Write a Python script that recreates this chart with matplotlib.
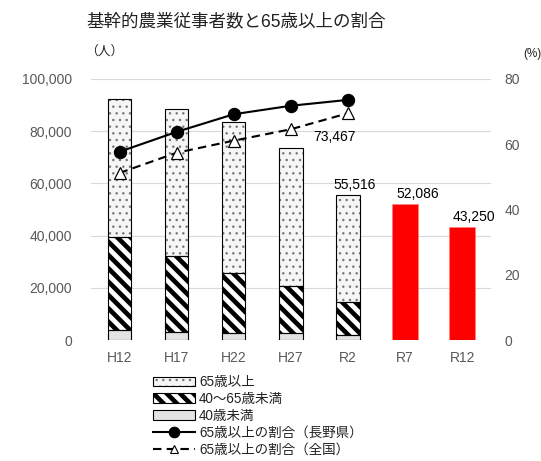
import matplotlib
matplotlib.use("Agg")
import matplotlib.pyplot as plt
from matplotlib.patches import Patch, Rectangle
from matplotlib.lines import Line2D
from matplotlib.legend_handler import HandlerTuple, HandlerPatch
import numpy as np

plt.rcParams['font.family'] = ['Liberation Sans', 'Noto Sans CJK JP', 'DejaVu Sans']

# data
years = ["H12", "H17", "H22", "H27", "R2", "R7", "R12"]
under40 = [3800, 3200, 2600, 2600, 1900]
age40_64 = [35700, 29000, 23200, 18100, 12800]
over65 = [52700, 56300, 57600, 52767, 40816]
projection = [52086, 43250]              # R7, R12 (推計)
total_labels = ["73,467", "55,516", "52,086", "43,250"]
ratio_nagano = [57.7, 63.8, 69.2, 71.8, 73.6]
ratio_japan = [51.2, 57.4, 61.1, 64.6, 69.5]

DPI = 80
fig = plt.figure(figsize=(541 / DPI, 461 / DPI), dpi=DPI)
ax = fig.add_axes([91 / 541, 1 - 340 / 461, (490.7 - 91) / 541, (340 - 79) / 461])
ax2 = ax.twinx()

grey = "#595959"
x_act = np.arange(len(under40))
x_proj = np.arange(len(under40), len(years))
w = 0.41

DOT = dict(hatch="..", hcolor="#777777", face="#f6f6f6", hlw=1.0)
STRIPE = dict(hatch="\\\\", hcolor="black", face="white", hlw=4.2)


def hatched(ax, x, h, bottom, style, width):
    with plt.rc_context({"hatch.linewidth": style["hlw"], "hatch.color": style["hcolor"]}):
        bars = ax.bar(x, h, width, bottom=bottom, color=style["face"], hatch=style["hatch"],
                      edgecolor=style["hcolor"], linewidth=0, zorder=2)
    for b in bars:
        if hasattr(b, "set_hatch_linewidth"):
            b.set_hatch_linewidth(style["hlw"])
    ax.bar(x, h, width, bottom=bottom, fill=False, edgecolor="black",
           linewidth=1.0, zorder=3)


b1 = np.array(under40, dtype=float)
b2 = b1 + np.array(age40_64)
ax.bar(x_act, under40, w, color="#e3e3e3", edgecolor="black", linewidth=1.0, zorder=3)
hatched(ax, x_act, age40_64, b1, STRIPE, w)
hatched(ax, x_act, over65, b2, DOT, w)
ax.bar(x_proj, projection, 0.46, color="#ff0000", edgecolor="#ff8080", linewidth=0.6, zorder=3)

tops = list(b2 + np.array(over65))
# data labels
ax.annotate(total_labels[0], (3, tops[3]), xytext=(39, 10), textcoords="offset points",
            ha="center", va="center", fontsize=12.5, color="black", zorder=5)
ax.annotate(total_labels[1], (4, tops[4]), xytext=(6, 9), textcoords="offset points",
            ha="center", va="center", fontsize=12.5, color="black", zorder=5)
for xi, v, lab in zip(x_proj, projection, total_labels[2:]):
    ax.annotate(lab, (xi, v), xytext=(11, 3), textcoords="offset points",
                ha="center", va="bottom", fontsize=12.5, color="black", zorder=5)

ax.set_xlim(-0.5, 6.5)
ax.set_ylim(0, 100000)
ax.set_yticks(np.arange(0, 100001, 20000))
ax.set_yticklabels([f"{v:,}" for v in range(0, 100001, 20000)])
ax.set_xticks(range(len(years)))
ax.set_xticklabels(years)
ax.yaxis.grid(True, color="#d9d9d9", linewidth=1.0, zorder=0)
ax.set_axisbelow(True)
ax.tick_params(axis="y", length=0, pad=17, labelsize=12.5, labelcolor=grey)
ax.tick_params(axis="x", length=0, pad=10, labelsize=12.5, labelcolor=grey)

ax2.plot(x_act, ratio_nagano, color="black", linewidth=1.9, marker="o",
         markersize=11, zorder=6, clip_on=False)
ax2.plot(x_act, ratio_japan, color="black", linewidth=1.9, linestyle=(0, (4, 2.5)),
         marker="^", markersize=11.5, markerfacecolor="white", markeredgecolor="black",
         markeredgewidth=1.1, zorder=6, clip_on=False)
ax2.set_ylim(0, 80)
ax2.set_yticks(range(0, 81, 20))
ax2.tick_params(axis="y", length=0, pad=12.5, labelsize=12.5, labelcolor=grey)

for a in (ax, ax2):
    for s in a.spines.values():
        s.set_visible(False)

fig.text(86 / 541, 1 - 21.5 / 461, "基幹的農業従事者数と65歳以上の割合",
         fontsize=15.8, ha="left", va="center", color="#222222")
fig.text(85 / 541, 1 - 52.5 / 461, "（人）", fontsize=11.5, ha="left", va="center", color="#222222")
fig.text(541 / 541, 1 - 54 / 461, "(%)", fontsize=10.5, ha="right", va="center", color="#222222")


# legend: hatch patches need their own hatch line width
class DotPatch(Patch):
    pass


class StripePatch(Patch):
    pass


def rect_with(style):
    def make(legend, orig_handle, xdescent, ydescent, width, height, fontsize):
        p = Rectangle((-xdescent, -ydescent), width, height)
        if hasattr(p, "set_hatch_linewidth"):
            p.set_hatch_linewidth(style["hlw"])
        return p
    return make


def pair(cls, style):
    p = cls(facecolor=style["face"], hatch=style["hatch"], edgecolor=style["hcolor"], linewidth=0)
    return (p, Patch(fill=False, edgecolor="black", linewidth=1.0))


handles = [
    pair(DotPatch, DOT),
    pair(StripePatch, STRIPE),
    Patch(facecolor="#e3e3e3", edgecolor="black", linewidth=1.0),
    Line2D([], [], color="black", linewidth=1.9, marker="o", markersize=9.5),
    Line2D([], [], color="black", linewidth=1.9, linestyle=(0, (4, 2.5)), marker="^",
           markersize=8, markerfacecolor="white", markeredgecolor="black"),
]
labels = ["65歳以上", "40～65歳未満", "40歳未満", "65歳以上の割合（長野県）", "65歳以上の割合（全国）"]
fig.legend(handles, labels, loc="upper left", bbox_to_anchor=(153 / 541, 1 - 375 / 461),
           frameon=False, fontsize=12.2, handlelength=3.1, handletextpad=0.3,
           labelspacing=0.22, borderpad=0, borderaxespad=0,
           handler_map={tuple: HandlerTuple(ndivide=1),
                        DotPatch: HandlerPatch(patch_func=rect_with(DOT)),
                        StripePatch: HandlerPatch(patch_func=rect_with(STRIPE))},
           labelcolor="#222222")

fig.savefig("out.png", dpi=DPI)
